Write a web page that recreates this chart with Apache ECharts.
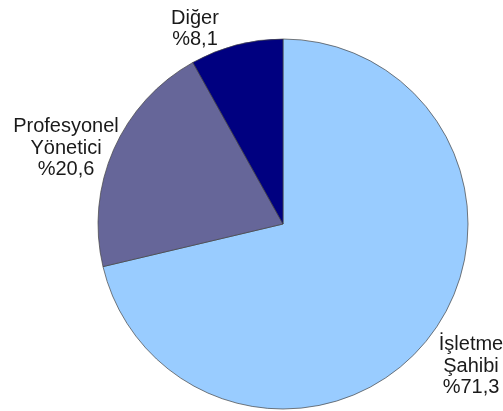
<!DOCTYPE html>
<html>
<head>
<meta charset="utf-8">
<script src="https://cdn.jsdelivr.net/npm/echarts@6/dist/echarts.min.js"></script>
<style>
  html, body { margin: 0; padding: 0; background: #fff; }
  #chart { width: 503px; height: 411px; }
</style>
</head>
<body>
<div id="chart"></div>
<script>
// Ownership of the business: share of each group (%)
const categories = ['İşletme\nŞahibi', 'Profesyonel\nYönetici', 'Diğer'];
const shares = [71.3, 20.6, 8.1];
const sliceColors = ['#99CCFF', '#666699', '#000080'];

// Label block centres (px), one per slice
const labelSpots = [[471, 366], [66, 148], [195, 29]];

const data = categories.map((name, i) => ({
  name: name,
  value: shares[i],
  itemStyle: { color: sliceColors[i] }
}));

const chart = echarts.init(document.getElementById('chart'), null, { renderer: 'canvas' });
chart.setOption({
  backgroundColor: '#ffffff',
  animation: false,
  series: [{
    type: 'pie',
    center: [283, 224],
    radius: [0, 185],
    startAngle: 90,
    clockwise: true,
    avoidLabelOverlap: false,
    data: data,
    itemStyle: { borderColor: '#444444', borderWidth: 0.7 },
    label: {
      show: true,
      position: 'outside',
      color: '#1a1a1a',
      fontFamily: 'Liberation Sans, Arial, sans-serif',
      fontSize: 20,
      lineHeight: 21.5,
      align: 'center',
      formatter: p => p.name + '\n%' + p.value.toFixed(1).replace('.', ',')
    },
    labelLine: { show: false },
    labelLayout: params => ({
      x: labelSpots[params.dataIndex][0],
      y: labelSpots[params.dataIndex][1],
      align: 'center',
      verticalAlign: 'middle'
    }),
    emphasis: { disabled: true }
  }]
});
</script>
</body>
</html>
